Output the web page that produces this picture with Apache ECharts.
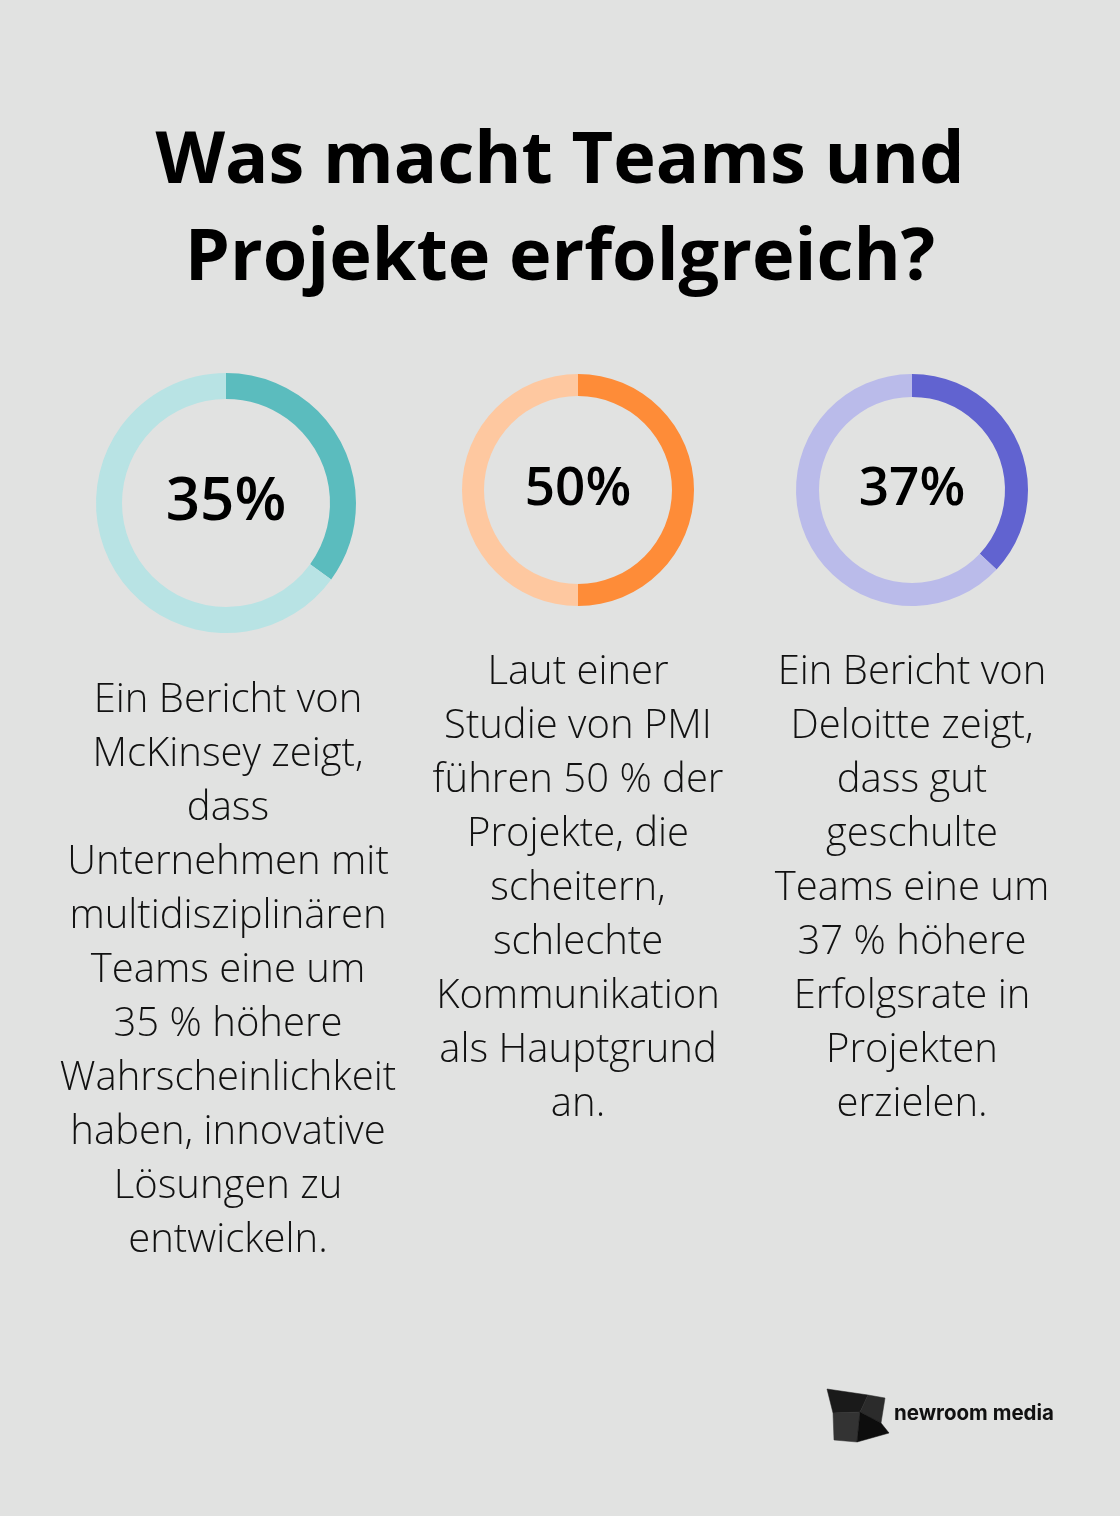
<!DOCTYPE html>
<html>
<head>
<meta charset="utf-8">
<script src="https://cdn.jsdelivr.net/npm/echarts@6/dist/echarts.min.js"></script>
<style>
html,body{margin:0;padding:0;background:#e1e2e1;}
#c{width:1120px;height:1516px;}
</style>
</head>
<body>
<div id="c"></div>
<script>
const titleLines = ['Was macht Teams und', 'Projekte erfolgreich?'];
const percentValues = [35, 50, 37];
const valueColors = ['#5bbcbe', '#fe8c38', '#6163d0'];
const restColors = ['#b8e3e4', '#fec8a0', '#babbea'];
const bodyTexts = [
  ['Ein Bericht von', 'McKinsey zeigt,', 'dass', 'Unternehmen mit', 'multidisziplinären', 'Teams eine um', '35 % höhere', 'Wahrscheinlichkeit', 'haben, innovative', 'Lösungen zu', 'entwickeln.'],
  ['Laut einer', 'Studie von PMI', 'führen 50 % der', 'Projekte, die', 'scheitern,', 'schlechte', 'Kommunikation', 'als Hauptgrund', 'an.'],
  ['Ein Bericht von', 'Deloitte zeigt,', 'dass gut', 'geschulte', 'Teams eine um', '37 % höhere', 'Erfolgsrate in', 'Projekten', 'erzielen.']
];
const brandName = 'newroom media';

// layout (not data)
const donutLayout = [
  {cx: 226, cy: 503, r0: 104, r: 130, fs: 60, dy: 0},
  {cx: 578, cy: 490, r0: 94, r: 116, fs: 53, dy: 0},
  {cx: 912, cy: 490, r0: 93, r: 116, fs: 53, dy: 0}
];
const bodyTop = [674, 646, 646];

const chart = echarts.init(document.getElementById('c'), null, {renderer: 'canvas'});

const series = percentValues.map((v, i) => {
  const L = donutLayout[i];
  return {
    type: 'pie',
    center: [L.cx, L.cy],
    radius: [L.r0, L.r],
    startAngle: 90,
    clockwise: true,
    silent: true,
    animation: false,
    avoidLabelOverlap: false,
    labelLine: {show: false},
    label: {show: false},
    data: [
      {value: v, itemStyle: {color: valueColors[i]},
       label: {show: true, position: 'center', formatter: v + '%',
         fontFamily: 'Open Sans', fontWeight: 600, fontSize: L.fs, color: '#000', offset: [0, L.dy]}},
      {value: 100 - v, itemStyle: {color: restColors[i]}, label: {show: false}}
    ]
  };
});

const graphics = [];
titleLines.forEach((t, i) => {
  graphics.push({
    type: 'text', x: 560, y: 162 + i * 97,
    style: {text: t, align: 'center', verticalAlign: 'middle',
      fontFamily: 'Open Sans', fontWeight: 700, fontSize: 72, fill: '#000'}
  });
});
const colX = [228, 578, 912];
bodyTexts.forEach((lines, i) => {
  graphics.push({
    type: 'text', x: colX[i], y: bodyTop[i],
    style: {text: lines.join('\n'), align: 'center', verticalAlign: 'top',
      fontFamily: 'Open Sans', fontWeight: 300, fontSize: 40, lineHeight: 54, fill: '#111'}
  });
});
// logo
const logoPolys = [
  {pts: [[827,1389],[868,1395],[860,1412],[833,1413]], c: '#1a1a1a'},
  {pts: [[868,1395],[885,1398],[881,1423],[860,1412]], c: '#2b2b2b'},
  {pts: [[833,1413],[860,1412],[857,1442],[834,1440]], c: '#333333'},
  {pts: [[860,1412],[881,1423],[889,1433],[857,1442]], c: '#0d0d0d'}
];
logoPolys.forEach(p => {
  graphics.push({type: 'polygon', shape: {points: p.pts}, style: {fill: p.c, stroke: p.c, lineWidth: 0.5}});
});
graphics.push({
  type: 'text', x: 894, y: 1414,
  style: {text: brandName, align: 'left', verticalAlign: 'middle',
    fontFamily: 'Inter', fontWeight: 700, fontSize: 20.5, fill: '#111'}
});

chart.setOption({
  backgroundColor: '#e1e2e1',
  animation: false,
  series: series,
  graphic: graphics
});
</script>
</body>
</html>
